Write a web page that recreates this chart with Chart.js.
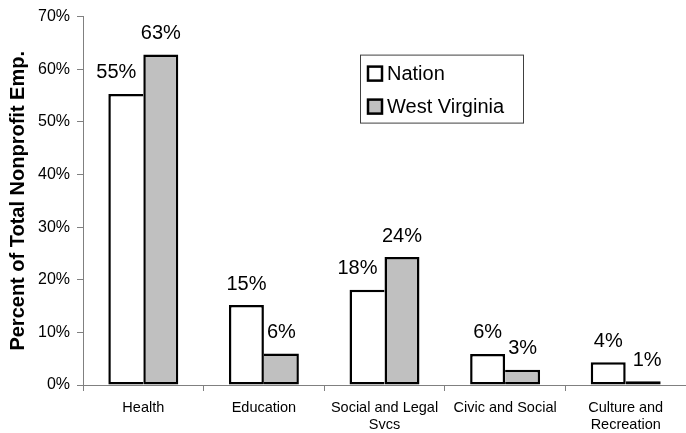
<!DOCTYPE html>
<html>
<head>
<meta charset="utf-8">
<script src="https://cdn.jsdelivr.net/npm/chart.js@4.4.1/dist/chart.umd.min.js"></script>
<style>
  html, body { margin: 0; padding: 0; background: #fff; }
  #wrap { position: relative; width: 686px; height: 433px; }
</style>
</head>
<body>
<div id="wrap"><canvas id="c"></canvas></div>
<script>
  "use strict";
  // kategoriler ve seriler (resimden okunan yüzde değerleri)
  const kategoriler = [["Health"], ["Education"], ["Social and Legal", "Svcs"], ["Civic and Social"], ["Culture and", "Recreation"]];
  const nation = [55.3, 15.2, 18.1, 5.9, 4.3];
  const westVirginia = [62.8, 6.0, 24.3, 2.9, 0.7];
  const etiketNation = ["55%", "15%", "18%", "6%", "4%"];
  const etiketWV = ["63%", "6%", "24%", "3%", "1%"];
  const yTicks = [0, 10, 20, 30, 40, 50, 60, 70];

  const FONT = "'Liberation Sans', Arial, sans-serif";
  const etiketler = [etiketNation, etiketWV];
  const BW = 2.5;

  // kısa olan bar iç kenar çizgisini uzun bara bırakır (tek çizgi görünsün)
  function kenar(ctx) {
    const i = ctx.dataIndex, di = ctx.datasetIndex;
    const ds = ctx.chart.data.datasets;
    const ben = ds[di].data[i], diger = ds[1 - di].data[i];
    const w = { top: BW, bottom: BW, left: BW, right: BW };
    if (ben < diger || (ben === diger && di === 1)) {
      if (di === 0) w.right = 0; else w.left = 0;
    }
    return w;
  }

  // bar üstü yüzde etiketleri
  const degerEtiketi = {
    id: "degerEtiketi",
    afterDatasetsDraw(chart) {
      const ctx = chart.ctx;
      ctx.save();
      ctx.font = "20px " + FONT;
      ctx.fillStyle = "#000";
      ctx.textBaseline = "middle";
      ctx.textAlign = "center";
      chart.data.datasets.forEach((ds, di) => {
        chart.getDatasetMeta(di).data.forEach((bar, i) => {
          const txt = etiketler[di][i];
          let x = bar.x;
          // yandaki bar daha uzunsa etiketi sola kaydır
          if (di === 0 && chart.data.datasets[1].data[i] > ds.data[i]) {
            const w = ctx.measureText(txt).width;
            x = bar.x + bar.width / 2 - 7 - w / 2;
          }
          if (di === 1 && ds.data[i] < 2) x += 4;
          ctx.fillText(txt, x, bar.y - 21);
        });
      });
      ctx.restore();
    }
  };

  // grafik alanı içinde kutulu lejant
  const kutuLejant = {
    id: "kutuLejant",
    afterDraw(chart) {
      const ctx = chart.ctx, a = chart.chartArea;
      const x = a.left + 277, y = a.top + 38, w = 163, h = 68;
      ctx.save();
      ctx.fillStyle = "#fff";
      ctx.fillRect(x, y, w, h);
      ctx.strokeStyle = "#404040";
      ctx.lineWidth = 1;
      ctx.strokeRect(x + 0.5, y + 0.5, w, h);
      ctx.font = "20px " + FONT;
      ctx.textBaseline = "middle";
      chart.data.datasets.forEach((ds, i) => {
        const cy = y + 19 + i * 33;
        ctx.fillStyle = ds.backgroundColor;
        ctx.fillRect(x + 8, cy - 7, 14, 14);
        ctx.strokeStyle = "#000";
        ctx.lineWidth = 2.5;
        ctx.strokeRect(x + 8, cy - 7, 14, 14);
        ctx.fillStyle = "#000";
        ctx.fillText(ds.label, x + 27, cy + 1);
      });
      ctx.restore();
    }
  };

  new Chart(document.getElementById("c"), {
    type: "bar",
    data: {
      labels: kategoriler,
      datasets: [
        { label: "Nation", data: nation, backgroundColor: "#ffffff", borderColor: "#000", borderWidth: kenar, borderSkipped: false },
        { label: "West Virginia", data: westVirginia, backgroundColor: "#c0c0c0", borderColor: "#000", borderWidth: kenar, borderSkipped: false }
      ]
    },
    options: {
      responsive: true,
      maintainAspectRatio: false,
      animation: false,
      layout: { padding: { left: 6, right: 0, top: 8, bottom: 0 } },
      datasets: { bar: { barPercentage: 1, categoryPercentage: 0.58 } },
      plugins: { legend: { display: false }, tooltip: { enabled: false } },
      scales: {
        x: {
          afterFit: s => { s.height = 48; },
          grid: { drawOnChartArea: false, drawTicks: true, tickLength: 6, color: "#808080", offset: true },
          border: { color: "#808080", width: 1 },
          ticks: { color: "#000", font: { family: FONT, size: 14.5, lineHeight: 1.2 }, padding: 8, maxRotation: 0, autoSkip: false }
        },
        y: {
          min: 0, max: 70,
          afterFit: s => { s.width = 77; },
          afterBuildTicks: s => { s.ticks = yTicks.map(v => ({ value: v })); },
          grid: { drawOnChartArea: false, drawTicks: true, tickLength: 6, color: "#808080" },
          border: { color: "#808080", width: 1 },
          ticks: { color: "#000", font: { family: FONT, size: 16 }, padding: 7, callback: v => v + "%" },
          title: { display: true, text: "Percent of Total Nonprofit Emp.", color: "#000", font: { family: FONT, size: 20, weight: "bold" }, padding: { top: 0, bottom: 10 } }
        }
      }
    },
    plugins: [degerEtiketi, kutuLejant]
  });
</script>
</body>
</html>
